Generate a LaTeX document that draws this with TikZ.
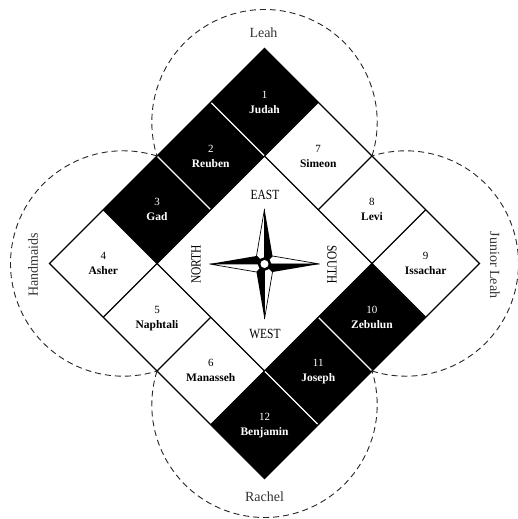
\documentclass[tikz,border=0pt]{standalone}
\usepackage{fontspec}
\setmainfont{Liberation Serif}
\newfontfamily\condserif[FakeStretch=0.82]{Liberation Serif}
\usetikzlibrary{calc}
\tikzset{
  gridline/.style={line width=1.2pt, black},
  sepline/.style={line width=1.2pt, white},
  ringarc/.style={line width=0.9pt, dash pattern=on 6pt off 4pt, black!85},
  numlabel/.style={font=\fontsize{11}{12}\selectfont, anchor=base, inner sep=0pt},
  namelabel/.style={font=\fontsize{11.5}{13}\selectfont\bfseries, anchor=base, inner sep=0pt},
  grouplabel/.style={font=\fontsize{14}{15}\selectfont, text=black!80, inner sep=0pt},
  dirlabel/.style={font=\condserif\fontsize{14}{15}\selectfont, inner sep=0pt}
}
\begin{document}
\begin{tikzpicture}[x=1pt,y=1pt]
\useasboundingbox (0,0) rectangle (518,519);
\coordinate (C) at (264.5,255.5);

% cells
\begin{scope}[shift={(264.5,255.5)}, rotate=45]
  \foreach \i/\j/\n/\col in {3/3/1/black,2/3/2/black,1/3/3/black,0/3/4/white,0/2/5/white,0/1/6/white,0/0/12/black,1/0/11/black,2/0/10/black,3/0/9/white,3/1/8/white,3/2/7/white}{
    \fill[\col] (-152+76*\i,-152+76*\j) rectangle ++(76,76);
    \coordinate (c\n) at (-114+76*\i,-114+76*\j);
  }
  % black separators
  \draw[gridline] (-76,76) -- (-76,152);
  \draw[gridline] (-152,76) -- (-76,76);
  \draw[gridline] (-152,0) -- (-76,0);
  \draw[gridline] (-152,-76) -- (-76,-76);
  \draw[gridline] (76,-152) -- (76,-76);
  \draw[gridline] (76,-76) -- (152,-76);
  \draw[gridline] (76,0) -- (152,0);
  \draw[gridline] (76,76) -- (152,76);
  % white separators between black cells
  \draw[sepline] (76,76) -- (76,151.4);
  \draw[sepline] (0,76) -- (0,151.4);
  \draw[sepline] (-76,-151.4) -- (-76,-76);
  \draw[sepline] (0,-151.4) -- (0,-76);
  % outer and inner squares
  \draw[gridline] (-152,-152) rectangle (152,152);
  \draw[gridline] (-76,-76) rectangle (76,76);
\end{scope}

% cell texts
\foreach \n/\name/\tc in {1/Judah/white,2/Reuben/white,3/Gad/white,4/Asher/black,5/Naphtali/black,6/Manasseh/black,12/Benjamin/white,11/Joseph/white,10/Zebulun/white,9/Issachar/black,8/Levi/black,7/Simeon/black}{
  \node[numlabel, text=\tc] (n\n) at ($(c\n)+(0,4)$) {\n};
  \node[namelabel, text=\tc] (t\n) at ($(c\n)+(0,-11)$) {\name};
}

% dashed rings (outside the diamond)
\draw[ringarc] ($(C)+(0,141.3)$) ++(-17.45:112.7) arc[start angle=-17.45, end angle=197.45, radius=112.7];
\draw[ringarc] ($(C)+(-141.3,0)$) ++(72.55:112.7) arc[start angle=72.55, end angle=287.45, radius=112.7];
\draw[ringarc] ($(C)+(0,-141.3)$) ++(162.55:112.7) arc[start angle=162.55, end angle=377.45, radius=112.7];
\draw[ringarc] ($(C)+(141.3,0)$) ++(-107.45:112.7) arc[start angle=-107.45, end angle=107.45, radius=112.7];

% group labels
\node[grouplabel] (leah) at (263.5,486) {Leah};
\node[grouplabel] (rachel) at (264.5,22) {Rachel};
\node[grouplabel, rotate=90] (handmaids) at (33,254) {Handmaids};
\node[grouplabel, rotate=-90] (junior) at (495,254) {Junior Leah};

% direction labels
\node[dirlabel] (east) at (265,324) {EAST};
\node[dirlabel] (west) at (265,185) {WEST};
\node[dirlabel, rotate=90] (north) at (196,254.5) {NORTH};
\node[dirlabel, rotate=-90] (south) at (332,254.5) {SOUTH};

% compass star
\begin{scope}[shift={(264.5,255)}]
  \foreach \r in {0,-90,-180,-270}{
    \begin{scope}[rotate=\r]
      \filldraw[fill=white, draw=black, line width=0.7pt, line join=miter] (0,0) -- (0,55) -- (-8,8) -- cycle;
    \end{scope}
  }
  \foreach \r in {0,-90,-180,-270}{
    \begin{scope}[rotate=\r]
      \fill[black] (0,0) -- (0,55) -- (8,8) -- cycle;
    \end{scope}
  }
  \filldraw[fill=white, draw=black, line width=2.5pt] (0,0) circle (5.5);
\end{scope}
\end{tikzpicture}
\end{document}
